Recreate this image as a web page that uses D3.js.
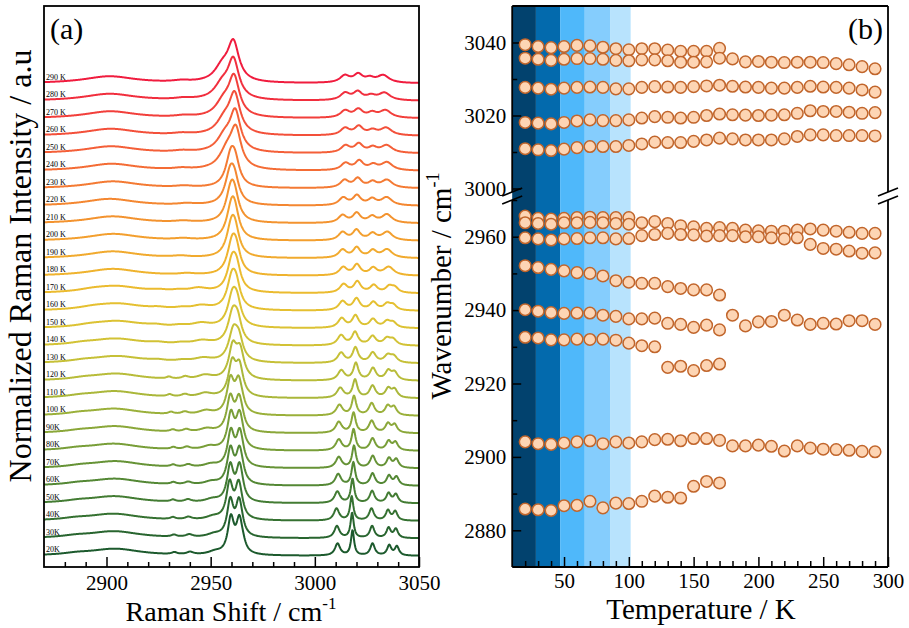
<!DOCTYPE html>
<html><head><meta charset="utf-8">
<script src="https://cdn.jsdelivr.net/npm/d3@7"></script>
<style>
body{margin:0;background:#fff;}
svg text{font-family:"Liberation Serif","Times New Roman",Times,serif;fill:#000;}
</style></head><body>
<svg id="chart" width="909" height="628"></svg>
<script>
// ---------------- DATA ----------------
const temps = [20,30,40,50,60,70,80,90,100,110,120,130,140,150,160,170,180,190,200,210,220,230,240,250,260,270,280,290];
const tempsTo170 = [20,30,40,50,60,70,80,90,100,110,120,130,140,150,160,170];
const tempsTo120 = [20,30,40,50,60,70,80,90,100,110,120];
const tempsTo100 = [20,30,40,50,60,70,80,90,100];
const temps130to170 = [130,140,150,160,170];
const specLabels = ["20K","30K","40K","50K","60K","70K","80K","90K","100 K","110 K","120 K","130 K","140 K","150 K","160 K","170 K","180 K","190 K","200 K","210 K","220 K","230 K","240 K","250 K","260 K","270 K","280 K","290 K"];

// Fitted peak positions (cm-1) vs temperature, panel (b)
const posU1 = [3039.4,3038.9,3038.6,3038.9,3039.2,3039.1,3038.7,3038.3,3038.0,3038.3,3038.3,3037.9,3037.6,3037.6,3037.6,3038.4];
const posU2 = [3035.7,3035.4,3035.1,3035.4,3035.6,3035.6,3035.4,3035.1,3035.0,3035.25,3035.25,3035.0,3034.6,3034.6,3034.7,3035.7,3035.5,3034.7,3034.8,3034.6,3034.5,3034.6,3034.6,3034.5,3034.2,3033.9,3033.4,3032.8];
const posU3 = [3027.7,3027.5,3027.2,3027.5,3027.7,3027.8,3027.7,3027.3,3027.3,3027.7,3027.9,3027.8,3027.7,3027.9,3028.1,3028.3,3028.0,3027.8,3027.7,3027.5,3027.5,3027.7,3028.0,3027.8,3027.7,3027.5,3027.0,3026.4];
const posU4 = [3018.1,3017.9,3017.7,3018.1,3018.5,3018.8,3018.6,3018.6,3018.8,3019.3,3019.7,3019.5,3019.3,3019.5,3020.0,3020.4,3020.2,3020.1,3020.0,3020.1,3020.2,3020.6,3021.3,3021.1,3021.1,3020.9,3020.6,3020.8];
const posU5 = [3010.9,3010.6,3010.4,3010.8,3011.2,3011.5,3011.5,3011.5,3011.8,3012.2,3012.7,3012.6,3012.6,3012.9,3013.3,3013.8,3013.6,3013.3,3013.3,3013.3,3013.6,3014.25,3014.7,3014.7,3014.5,3014.5,3014.5,3014.4];
const posL1a = [2965.6,2965.0,2964.8,2965.0,2965.2,2965.3,2965.2,2965.2,2965.2];
const posL1b = [2963.8,2963.6,2963.4,2963.8,2963.8,2963.9,2963.8,2963.6,2963.4,2963.8,2964.1,2963.6,2963.0,2962.7,2962.3,2962.5,2962.3,2961.8,2961.6,2961.5,2961.5,2961.8,2962.1,2961.8,2961.5,2961.2,2960.9,2960.9];
const posL2 = [2959.7,2959.4,2959.1,2959.4,2959.5,2959.7,2959.7,2959.4,2959.5,2960.3,2960.6,2960.9,2960.6,2960.5,2960.2,2960.3,2960.3,2960.0,2960.0,2959.7,2959.4,2959.7,2957.9,2956.8,2956.6,2956.1,2955.5,2955.6];
const posL3 = [2952.1,2951.6,2951.1,2950.7,2950.2,2950.0,2949.3,2948.0,2947.6,2947.3,2947.3,2946.4,2945.9,2945.5,2945.5,2944.1];
const posL4 = [2940.1,2939.7,2939.3,2939.1,2939.2,2939.2,2938.6,2938.3,2937.6,2937.6,2937.8,2936.4,2936.1,2935.3,2935.9,2934.6,2938.6,2935.7,2936.8,2936.9,2938.6,2937.3,2936.1,2936.4,2936.2,2937.1,2937.1,2936.1];
const posL5 = [2932.6,2932.4,2931.9,2931.9,2932.1,2932.0,2932.1,2931.8,2931.0,2930.3,2930.0];
const posL6 = [2924.4,2924.7,2923.5,2924.9,2925.3];
const posL7 = [2904.1,2903.6,2903.4,2903.8,2904.1,2904.4,2903.6,2904.1,2903.8,2904.1,2904.7,2904.8,2904.4,2905.0,2905.0,2904.5,2903.0,2903.0,2903.2,2902.9,2901.6,2903.0,2902.4,2902.1,2902.0,2901.8,2901.5,2901.4];
const posL8 = [2885.8,2885.6,2885.4,2886.7,2886.8,2887.9,2886.1,2887.4,2887.3,2887.9,2889.3,2889.0,2888.8,2892.0,2893.3,2892.9];

// Peak intensities (a.u.) and widths (FWHM, cm-1) used for the spectra, panel (a)
const ampU1 = [9,9,9,8.5,8.5,8.5,8,8,8,8,7.5,6,5.5,5,5,5];
const fwU1  = [2.4,2.4,2.5,2.6,2.7,2.8,2.9,3.0,3.1,3.3,3.5,4,4,4,4,4];
const ampU2 = [10,10,10,9.5,9.5,9.5,9,9,9,9,9,7,6.5,6,6,6,8.5,8.5,8.5,8.5,8,8,8,7.5,7.5,7.5,7.5,7.5];
const fwU2  = [2.4,2.4,2.5,2.6,2.7,2.8,2.9,3.0,3.1,3.3,3.5,4,4,4,4,4,6,6,6,6,6.2,6.4,6.5,6.6,6.7,6.8,6.9,7];
const ampU3 = [12,12,12,12,12,12,12,12,12,12,12,10,9,8.5,8,7.5,7,7,6.5,6,6,5.5,5,5,4.5,4.5,4,4];
const fwU3  = [2.6,2.6,2.7,2.8,2.9,3.0,3.1,3.2,3.3,3.4,3.5,3.7,3.9,4,4.1,4.2,4.3,4.4,4.5,4.6,4.7,4.8,4.9,5,5,5,5,5];
const ampU4 = [25,25,24,24,23,22,21,20,19,18,17,15,13,12,11.5,11,10.5,10,10,9.5,9.5,9,9,8.5,8.5,8,8,8];
const fwU4  = [1.8,1.8,1.9,2.0,2.1,2.2,2.3,2.4,2.5,2.7,2.9,3.2,3.5,3.7,3.9,4.0,4.1,4.2,4.3,4.4,4.5,4.6,4.7,4.8,4.9,5.0,5.1,5.2];
const ampU5 = [12,12,12,11.5,11.5,11,11,11,10.5,10,10,10,10,9.5,9,8.5,8,8,8,7.5,7.5,7.5,7,7,7,7,7,7];
const fwU5  = [3.0,3.0,3.1,3.2,3.3,3.4,3.5,3.6,3.7,3.8,3.9,4.0,4.1,4.2,4.3,4.4,4.5,4.6,4.7,4.8,4.9,5.0,5.1,5.2,5.3,5.4,5.5,5.6];
const ampL1a = [4,4,4,4,4,4,4,4,4];
const fwL1a  = [3,3,3,3,3,3,3,3,3];
const ampL1b = [33,33,33,33,32,32,32,31,31,29,27,18,18,18,18,18,18,18,18,18,18,18,36,38,38,38,38,38];
const fwL1b  = [3.6,3.6,3.7,3.7,3.8,3.8,3.9,4.0,4.1,4.3,4.6,4.5,4.5,4.5,4.6,4.6,4.7,4.8,4.9,5,5,5,6,6,6.2,6.3,6.4,6.5];
const ampL2 = [35,35,35,35,34,34,34,33,33,32,31,30,30,30,30,30,30,30,30,30,30,30,18,15,14,14,14,14];
const fwL2  = [3.6,3.6,3.7,3.7,3.8,3.8,3.9,4.0,4.1,4.3,4.6,5.5,5.5,5.5,5.5,5.5,5.6,5.6,5.7,5.7,5.8,5.8,9,9,9,9,9,9];
const ampL3 = [3,3,3,3,3,3,3.5,3.5,4,4,4.5,4,4,4,4,4];
const fwL3  = [8,8,8,8,8,8,8,8,8,8,9,11,11,11,11,11];
const ampL4 = [2.5,2.5,2.5,2.5,2.5,2.5,2.5,2.5,2.5,2.5,2.5,1.5,1.5,1.5,1.5,1.5,1.5,1.5,1.5,1.5,1.5,1.5,1.5,1.5,1.5,1.5,1.5,1.5];
const fwL4  = [4,4,4,4,4,4,4,4,4,4,4,8,8,8,8,8,10,10,10,10,10,10,10,10,10,10,10,10];
const ampL5 = [2,2,2,2,2,2,2,2,2,2,2];
const fwL5  = [3,3,3,3,3,3,3,3,3,3,3];
const ampL6 = [1.5,1.5,1.5,1.5,1.5];
const fwL6  = [10,10,10,10,10];
const ampL7 = [7,7,7,7,7,7,7,7,7,7,7,7,7,7,7,7,7,7,7,7,7,7,7,7,7,7,7,7];
const fwL7  = [30,30,30,30,30,30,30,30,30,30,30,30,30,30,30,30,30,30,30,30,30,30,30,30,30,30,30,30];
const ampL8 = [1.5,1.5,1.5,1.5,1.5,1.5,1.5,1.5,1.5,1.5,1.5,1.5,1.5,1.5,1.5,1.5];
const fwL8  = [16,16,16,16,16,16,16,16,16,16,16,16,16,16,16,16];

// shaded temperature ranges (K), panel (b)
const bandEdges = [10, 28.3, 47, 66, 85.5, 101.4];

// tick values
const ticksAMajor = [2900, 2950, 3000, 3050];
const ticksAMinor = [2880,2890,2910,2920,2930,2940,2960,2970,2980,2990,3010,3020,3030,3040];
const ticksBxMajor = [50,100,150,200,250,300];
const ticksBxMinor = [20,30,40,60,70,80,90,110,120,130,140,160,170,180,190,210,220,230,240,260,270,280,290];
const ticksBLowMajor = [2880,2900,2920,2940,2960];
const ticksBLowMinor = [2890,2910,2930,2950,2970];
const ticksBUpMajor = [3000,3020,3040];
const ticksBUpMinor = [3010,3030];

// ---------------- STYLE ----------------
const FONT = '"Liberation Serif","Times New Roman",Times,serif';
const specColors = ['#1c5a2d','#3f7c33','#7a9f38','#abb93b','#d4c535','#efbf2e','#f3a02d','#f47a33','#f4523a','#f01c3e'];
const bandColors = ['#02426e','#036aad','#4fb8fa','#85cdfd','#b8e3fd'];
const STEP = 17.5;
const TICKFS = 21;

const svg = d3.select('#chart');

// ---------------- PANEL A ----------------
const xA = d3.scaleLinear().domain([2870, 3050]).range([44, 419]);
const yA = d3.scaleLinear().domain([-12, 550]).range([568, 6]);
const gA = svg.append('g');
svg.append('defs').append('clipPath').attr('id','clipA')
  .append('rect').attr('x',44).attr('y',6).attr('width',375).attr('height',561);

const bands = [
  {t: tempsTo170, pos: posU1, amp: ampU1, fw: fwU1},
  {t: temps, pos: posU2, amp: ampU2, fw: fwU2},
  {t: temps, pos: posU3, amp: ampU3, fw: fwU3},
  {t: temps, pos: posU4, amp: ampU4, fw: fwU4},
  {t: temps, pos: posU5, amp: ampU5, fw: fwU5},
  {t: tempsTo100, pos: posL1a, amp: ampL1a, fw: fwL1a},
  {t: temps, pos: posL1b, amp: ampL1b, fw: fwL1b},
  {t: temps, pos: posL2, amp: ampL2, fw: fwL2},
  {t: tempsTo170, pos: posL3, amp: ampL3, fw: fwL3},
  {t: temps, pos: posL4, amp: ampL4, fw: fwL4},
  {t: tempsTo120, pos: posL5, amp: ampL5, fw: fwL5},
  {t: temps130to170, pos: posL6, amp: ampL6, fw: fwL6},
  {t: temps, pos: posL7, amp: ampL7, fw: fwL7},
  {t: tempsTo170, pos: posL8, amp: ampL8, fw: fwL8}
];

const grid = d3.range(2870, 3050.001, 0.25);
const colorOf = d3.interpolateRgbBasis(specColors);

const spectra = temps.map((T, i) => {
  const peaks = [];
  bands.forEach(b => {
    const k = b.t.indexOf(T);
    if (k >= 0) peaks.push([b.pos[k], b.amp[k], b.fw[k] / 2]);
  });
  const pts = grid.map(x => {
    let s = 0;
    for (const [c, a, h] of peaks) { const u = (x - c) / h; s += a / (1 + u * u); }
    return [x, i * STEP + s];
  });
  return {T, i, pts};
});

const line = d3.line().x(d => xA(d[0])).y(d => yA(d[1]));
const gLines = gA.append('g').attr('clip-path','url(#clipA)');
gLines.selectAll('path').data(spectra).join('path')
  .attr('d', d => line(d.pts))
  .attr('fill','none')
  .attr('stroke', d => colorOf(d.i / (temps.length - 1)))
  .attr('stroke-width', 2)
  .attr('stroke-linejoin','round');

gA.selectAll('text.spec').data(spectra).join('text')
  .attr('class','spec')
  .attr('x', 46)
  .attr('y', d => yA(d.i * STEP) - 4)
  .attr('font-size', 8)
  .text((d, k) => specLabels[k]);

// axis A
const axA = gA.append('g').attr('transform','translate(0,567)')
  .call(d3.axisBottom(xA).tickValues(ticksAMajor).tickSize(-10).tickPadding(8).tickFormat(d3.format('d')));
axA.select('.domain').remove();
axA.selectAll('text').attr('font-size',TICKFS).attr('font-family',FONT).attr('fill','#000');
axA.selectAll('line').attr('stroke','#000').attr('stroke-width',1.5);
const axAm = gA.append('g').attr('transform','translate(0,567)')
  .call(d3.axisBottom(xA).tickValues(ticksAMinor).tickSize(-5).tickFormat(''));
axAm.select('.domain').remove();
axAm.selectAll('line').attr('stroke','#000').attr('stroke-width',1.5);

gA.append('rect').attr('x',44).attr('y',6).attr('width',375).attr('height',561)
  .attr('fill','none').attr('stroke','#000').attr('stroke-width',1.8);

gA.append('text').attr('x',50).attr('y',39).attr('font-size',30).text('(a)');

const tA = gA.append('text').attr('x',231).attr('y',621).attr('text-anchor','middle').attr('font-size',28);
tA.append('tspan').text('Raman Shift / cm');
tA.append('tspan').attr('font-size',17).attr('dy',-12).text('-1');

gA.append('text').attr('transform','translate(31,266) rotate(-90)')
  .attr('text-anchor','middle').attr('font-size',32)
  .text('Normalized Raman Intensity / a.u');

// ---------------- PANEL B ----------------
const xB = d3.scaleLinear().domain([10, 300]).range([512.2, 888]);
const yLow = d3.scaleLinear().domain([2870, 2970]).range([567, 200]);
const yUp = d3.scaleLinear().domain([2999.04, 3050]).range([192, 6]);
const gB = svg.append('g');

gB.selectAll('rect.band').data(d3.pairs(bandEdges)).join('rect')
  .attr('class','band')
  .attr('x', d => xB(d[0])).attr('width', d => xB(d[1]) - xB(d[0]))
  .attr('y', 6).attr('height', 561)
  .attr('fill', (d, k) => bandColors[k]);

function styleAxis(g) {
  g.select('.domain').remove();
  g.selectAll('line').attr('stroke','#000').attr('stroke-width',1.5);
  g.selectAll('text').attr('font-size', TICKFS).attr('font-family', FONT).attr('fill','#000');
}
const fmt = d3.format('d');
styleAxis(gB.append('g').attr('transform','translate(0,567)')
  .call(d3.axisBottom(xB).tickValues(ticksBxMajor).tickSize(-10).tickPadding(6).tickFormat(fmt)));
styleAxis(gB.append('g').attr('transform','translate(0,567)')
  .call(d3.axisBottom(xB).tickValues(ticksBxMinor).tickSize(-6).tickFormat('')));
styleAxis(gB.append('g').attr('transform','translate(512.2,0)')
  .call(d3.axisLeft(yLow).tickValues(ticksBLowMajor).tickSize(-9).tickPadding(6).tickFormat(fmt)));
styleAxis(gB.append('g').attr('transform','translate(512.2,0)')
  .call(d3.axisLeft(yLow).tickValues(ticksBLowMinor).tickSize(-5).tickFormat('')));
styleAxis(gB.append('g').attr('transform','translate(512.2,0)')
  .call(d3.axisLeft(yUp).tickValues(ticksBUpMajor).tickSize(-9).tickPadding(6).tickFormat(fmt)));
styleAxis(gB.append('g').attr('transform','translate(512.2,0)')
  .call(d3.axisLeft(yUp).tickValues(ticksBUpMinor).tickSize(-5).tickFormat('')));

const fr = gB.append('g').attr('stroke','#000').attr('stroke-width',1.8).attr('fill','none');
const L = xB.range()[0], R = xB.range()[1];
[[L,6,R,6],[L,567,R,567],[L,6,L,192],[L,200,L,567],[R,6,R,192],[R,200,R,567]].forEach(s =>
  fr.append('line').attr('x1',s[0]).attr('y1',s[1]).attr('x2',s[2]).attr('y2',s[3]));
[L, R].forEach(x => {
  [192, 200].forEach(y => fr.append('line')
    .attr('x1', x - 10).attr('y1', y + 4).attr('x2', x + 10).attr('y2', y - 4).attr('stroke-width',1.6));
});

const seriesB = [
  {t: tempsTo170, v: posU1, y: yUp},
  {t: temps, v: posU2, y: yUp},
  {t: temps, v: posU3, y: yUp},
  {t: temps, v: posU4, y: yUp},
  {t: temps, v: posU5, y: yUp},
  {t: tempsTo100, v: posL1a, y: yLow},
  {t: temps, v: posL1b, y: yLow},
  {t: temps, v: posL2, y: yLow},
  {t: tempsTo170, v: posL3, y: yLow},
  {t: temps, v: posL4, y: yLow},
  {t: tempsTo120, v: posL5, y: yLow},
  {t: temps130to170, v: posL6, y: yLow},
  {t: temps, v: posL7, y: yLow},
  {t: tempsTo170, v: posL8, y: yLow}
];
const pts = [];
seriesB.forEach(s => s.t.forEach((T, k) => pts.push({x: xB(T), y: s.y(s.v[k])})));
gB.append('g').selectAll('circle').data(pts).join('circle')
  .attr('cx', d => d.x).attr('cy', d => d.y).attr('r', 5.8)
  .attr('fill','#fdd5b4').attr('stroke','#c1652b').attr('stroke-width',1.5);

gB.append('text').attr('x',883).attr('y',39).attr('text-anchor','end').attr('font-size',30).text('(b)');

gB.append('text').attr('x',701).attr('y',619).attr('text-anchor','middle').attr('font-size',29)
  .text('Temperature / K');

const tB = gB.append('text').attr('transform','translate(451,286) rotate(-90)')
  .attr('text-anchor','middle').attr('font-size',29);
tB.append('tspan').text('Wavenumber / cm');
tB.append('tspan').attr('font-size',18).attr('dy',-12).text('-1');
</script>
</body></html>
